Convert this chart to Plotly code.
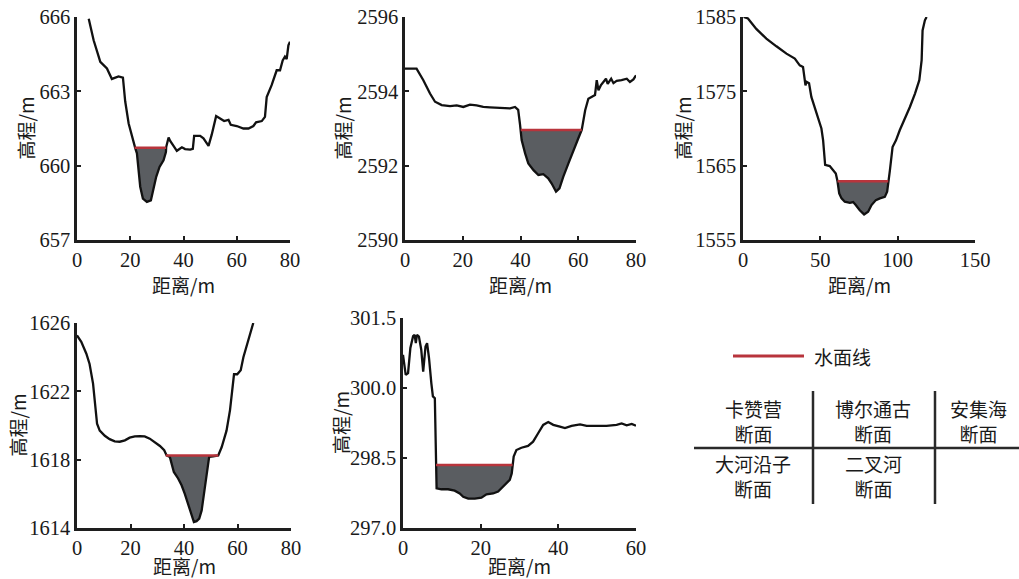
import plotly.graph_objects as go

# ---------------- data ----------------
# 卡赞营断面
kzy_x = [4.4, 6.25, 8.75, 11.25, 13.1, 15.6, 17.25, 18.1, 19.4, 21.25, 21.9, 22.5, 23.1, 23.75, 24.75, 26.25, 27.75,
         28.75, 29.75, 31.0, 32.5, 33.4, 33.5, 34.4, 35.0, 36.25, 37.5, 39.4, 40.6, 42.5, 43.5, 44.0, 46.25, 47.5,
         49.4, 50.6, 52.25, 53.75, 55.25, 56.9, 57.75, 60.0, 62.5, 64.4, 66.25, 67.25, 69.4, 70.6, 71.25, 73.1,
         75.0, 76.25, 77.25, 78.1, 78.75, 79.4, 80.0]
kzy_y = [665.93, 665.06, 664.19, 663.92, 663.5, 663.6, 663.55, 662.6, 661.7, 660.9, 660.7, 660.5, 659.95, 659.15,
         658.67, 658.54, 658.6, 659.15, 659.55, 659.95, 660.22, 660.55, 660.75, 661.14, 661.0, 660.8, 660.6, 660.74,
         660.67, 660.65, 660.68, 661.2, 661.2, 661.1, 660.8, 661.25, 662.0, 661.9, 661.8, 661.85, 661.65, 661.6,
         661.5, 661.5, 661.6, 661.75, 661.8, 661.97, 662.77, 663.25, 663.85, 663.85, 664.25, 664.4, 664.3, 664.86,
         665.0]
kzy_water = [660.72, 21.6, 33.45]

# 博尔通古断面
betg_x = [0.0, 4.0, 6.35, 8.66, 10.4, 12.7, 15.6, 17.9, 20.2, 22.5, 24.8, 27.1, 29.4, 31.75, 34.1, 36.4, 38.1,
          39.2, 39.8, 40.1, 40.4, 41.6, 42.7, 44.5, 46.2, 47.9, 49.6, 50.8, 52.3, 53.5, 54.8, 56.6, 58.3, 60.0,
          61.2, 62.4, 63.5, 64.7, 65.8, 66.4, 67.0, 67.8, 68.7, 69.6, 70.2, 71.4, 72.2, 73.3, 75.0, 76.8, 77.9,
          79.1, 80.0]
betg_y = [2594.61, 2594.61, 2594.3, 2593.94, 2593.72, 2593.63, 2593.6, 2593.62, 2593.58, 2593.64, 2593.62,
          2593.58, 2593.57, 2593.56, 2593.55, 2593.54, 2593.58, 2593.5, 2593.13, 2592.96, 2592.69, 2592.33,
          2592.06, 2591.88, 2591.75, 2591.77, 2591.66, 2591.52, 2591.3, 2591.39, 2591.7, 2592.06, 2592.42,
          2592.73, 2592.96, 2593.49, 2593.8, 2593.85, 2593.9, 2594.3, 2594.03, 2594.16, 2594.25, 2594.34,
          2594.2, 2594.34, 2594.22, 2594.28, 2594.3, 2594.34, 2594.25, 2594.32, 2594.43]
betg_water = [2592.96, 40.1, 61.2]

# 安集海断面
ajh_x = [0.4, 3.2, 8.6, 15.1, 21.6, 28.1, 33.5, 36.7, 38.8, 39.9, 40.4, 41.0, 42.7, 44.2, 46.4, 48.6, 50.7, 51.8,
         52.5, 53.1, 56.1, 58.3, 60.0, 61.1, 62.2, 63.7, 65.8, 69.1, 71.2, 72.9, 75.5, 78.3, 80.9, 83.1, 85.9,
         88.5, 91.7, 93.2, 93.9, 95.0, 96.7, 98.9, 101.4, 104.7, 107.9, 111.2, 114.0, 115.5, 116.1, 117.6, 118.7]
ajh_y = [1585.0, 1584.8, 1583.4, 1582.1, 1581.06, 1580.07, 1579.4, 1578.5, 1578.28, 1576.5, 1575.8, 1576.3,
         1576.1, 1574.25, 1572.9, 1571.3, 1570.0, 1568.4, 1566.2, 1565.1, 1564.95, 1564.4, 1563.95, 1562.9,
         1561.27, 1560.6, 1560.15, 1560.0, 1560.1, 1559.7, 1559.0, 1558.44, 1558.8, 1559.7, 1560.37, 1560.6,
         1560.8, 1561.5, 1562.9, 1564.4, 1567.5, 1568.4, 1569.8, 1571.3, 1572.9, 1574.7, 1576.5, 1579.2,
         1583.2, 1584.55, 1585.0]
ajh_water = [1562.92, 61.1, 93.9]

# 大河沿子断面
dhyz_x = [0.0, 1.6, 3.5, 4.7, 6.0, 7.0, 7.5, 8.5, 10.4, 12.2, 14.1, 16.0, 17.9, 19.7, 21.6, 23.5, 25.3, 27.2,
          29.1, 31.0, 32.6, 33.5, 34.7, 35.3, 36.2, 37.8, 39.1, 40.3, 41.6, 42.8, 43.7, 44.7, 45.7, 46.6, 47.4,
          48.4, 49.4, 50.9, 52.8, 54.1, 55.9, 57.2, 58.2, 58.7, 59.9, 61.2, 62.2, 64.0, 65.9]
dhyz_y = [1625.28, 1624.9, 1624.2, 1623.6, 1622.45, 1621.1, 1620.1, 1619.7, 1619.4, 1619.2, 1619.07, 1619.05,
          1619.13, 1619.29, 1619.36, 1619.38, 1619.36, 1619.23, 1619.03, 1618.8, 1618.55, 1618.25, 1618.16,
          1617.77, 1617.28, 1616.9, 1616.5, 1616.0, 1615.33, 1614.84, 1614.35, 1614.4, 1614.55, 1615.03,
          1616.0, 1617.18, 1618.16, 1618.2, 1618.25, 1618.74, 1619.7, 1620.9, 1622.25, 1623.0, 1623.0,
          1623.23, 1624.0, 1625.0, 1626.0]
dhyz_water = [1618.25, 33.2, 52.8]

# 二叉河断面
ech_x = [0.0, 0.7, 1.3, 1.9, 2.6, 3.0, 3.3, 3.6, 4.1, 4.7, 5.2, 5.8, 6.2, 6.7, 7.3, 7.7, 8.2, 8.4, 8.6, 8.65,
         9.9, 11.6, 13.3, 14.6, 15.5, 16.8, 18.5, 20.2, 21.5, 23.2, 24.5, 25.6, 26.7, 27.5, 28.0, 28.2, 28.5,
         29.2, 30.5, 32.2, 33.5, 34.8, 36.1, 37.4, 38.7, 40.4, 41.7, 43.4, 45.6, 47.3, 49.9, 52.4, 55.0, 56.3,
         57.6, 58.9, 60.0]
ech_y = [300.71, 300.28, 300.32, 300.86, 301.11, 301.14, 300.96, 301.14, 301.1, 300.82, 300.35, 300.89, 300.96,
         300.64, 300.1, 299.82, 299.78, 299.03, 298.35, 297.85, 297.83, 297.83, 297.8, 297.74, 297.67, 297.63,
         297.63, 297.65, 297.72, 297.74, 297.78, 297.88, 297.97, 298.03, 298.17, 298.35, 298.53, 298.67,
         298.72, 298.76, 298.85, 299.03, 299.21, 299.27, 299.21, 299.17, 299.14, 299.19, 299.22, 299.19,
         299.19, 299.19, 299.21, 299.24, 299.2, 299.23, 299.19]
ech_water = [298.35, 8.5, 28.2]

x_ranges = [[0, 80], [0, 80], [0, 150], [0, 80], [0, 60]]
y_ranges = [[657, 666], [2590, 2596], [1555, 1585], [1614, 1626], [297.0, 301.5]]
x_ticks = [[0, 20, 40, 60, 80], [0, 20, 40, 60, 80], [0, 50, 100, 150], [0, 20, 40, 60, 80], [0, 20, 40, 60]]
y_ticks = [[657, 660, 663, 666], [2590, 2592, 2594, 2596], [1555, 1565, 1575, 1585],
           [1614, 1618, 1622, 1626], [297.0, 298.5, 300.0, 301.5]]
y_fmt = ["", "", "", "", ".1f"]

sections = [(kzy_x, kzy_y, kzy_water), (betg_x, betg_y, betg_water), (ajh_x, ajh_y, ajh_water),
            (dhyz_x, dhyz_y, dhyz_water), (ech_x, ech_y, ech_water)]

legend_label = "水面线"
table_row1 = ["卡赞营<br>断面", "博尔通古<br>断面", "安集海<br>断面"]
table_row2 = ["大河沿子<br>断面", "二叉河<br>断面"]
x_title = "距离/m"
y_title = "高程/m"

# ---------------- layout (pixels) ----------------
W, H = 1019, 579


def px(x):
    return x / W


def py(y):
    return 1 - y / H


# plot areas: (left, right, top, bottom) in px
boxes = [(77, 290, 17, 240), (405, 636, 17, 240), (743, 975, 17, 240),
         (77, 291, 323, 528), (403, 636, 318, 528)]
ytitle_gap = [52, 63, 61, 60, 63]
xtitle_gap = [44, 44, 44, 37, 37]

FILL = "#5a5d61"
RED = "#b8343c"
AX = "#1e1e1e"
SERIF = "Liberation Serif"
CJK = "Noto Sans CJK SC"

fig = go.Figure()
layout = dict(
    width=W, height=H, margin=dict(l=0, r=0, t=0, b=0, pad=0, autoexpand=False),
    paper_bgcolor="white", plot_bgcolor="white", showlegend=False,
    font=dict(family=SERIF, size=20, color="#1a1a1a"),
)
annotations = []
shapes = []

for i, ((xs, ys, wat), box) in enumerate(zip(sections, boxes)):
    n = "" if i == 0 else str(i + 1)
    xa, ya = "x" + n, "y" + n
    l, r, t, b = box
    wl, xl, xr = wat
    # water fill polygon: between water surface and bed
    fx = [xl] + [x for x in xs if xl < x < xr] + [xr]
    fy = [wl] + [y for x, y in zip(xs, ys) if xl < x < xr] + [wl]
    fig.add_trace(go.Scatter(x=fx, y=fy, fill="toself", fillcolor=FILL, mode="lines",
                             line=dict(width=0, color=FILL), xaxis=xa, yaxis=ya, hoverinfo="skip"))
    fig.add_trace(go.Scatter(x=xs, y=ys, mode="lines", line=dict(color="#111111", width=2.3),
                             xaxis=xa, yaxis=ya))
    fig.add_trace(go.Scatter(x=[xl, xr], y=[wl, wl], mode="lines", line=dict(color=RED, width=2.5),
                             xaxis=xa, yaxis=ya))
    axis_common = dict(showgrid=False, zeroline=False, showline=True, linewidth=2.5, linecolor=AX,
                       ticks="inside", ticklen=4, tickwidth=2, tickcolor=AX, automargin=False,
                       ticklabeloverflow="allow",
                       tickfont=dict(family=SERIF, size=20.5, color="#1a1a1a"))
    layout["xaxis" + n] = dict(axis_common, domain=[px(l), px(r)], range=x_ranges[i],
                               tickvals=x_ticks[i], anchor=ya, fixedrange=True)
    layout["yaxis" + n] = dict(axis_common, domain=[py(b), py(t)], range=y_ranges[i],
                               tickvals=y_ticks[i], tickformat=y_fmt[i], anchor=xa, fixedrange=True)
    # axis titles
    annotations.append(dict(text=x_title, x=px((l + r) / 2), y=py(b + xtitle_gap[i]), xref="paper",
                            yref="paper", showarrow=False, font=dict(family=CJK, size=19, color="#1a1a1a"),
                            xanchor="center", yanchor="middle"))
    annotations.append(dict(text=y_title, x=px(l - ytitle_gap[i]), y=py((t + b) / 2), xref="paper",
                            yref="paper", showarrow=False, textangle=-90,
                            font=dict(family=CJK, size=19, color="#1a1a1a"),
                            xanchor="center", yanchor="middle"))

# legend: red line + text
shapes.append(dict(type="line", xref="paper", yref="paper", x0=px(733), x1=px(804),
                   y0=py(356), y1=py(356), line=dict(color=RED, width=3)))
annotations.append(dict(text=legend_label, x=px(812), y=py(356), xref="paper", yref="paper",
                        showarrow=False, xanchor="left", yanchor="middle",
                        font=dict(family=CJK, size=19, color="#1a1a1a")))

# table of section names
for xv in (813, 935):
    shapes.append(dict(type="line", xref="paper", yref="paper", x0=px(xv), x1=px(xv),
                       y0=py(391), y1=py(504), line=dict(color="#2a2a2a", width=2.5)))
shapes.append(dict(type="line", xref="paper", yref="paper", x0=px(694), x1=1,
                   y0=py(448), y1=py(448), line=dict(color="#2a2a2a", width=2.5)))
col_centers = [753, 873, 978]
for txt, cx in zip(table_row1, col_centers):
    annotations.append(dict(text=txt, x=px(cx), y=py(421), xref="paper", yref="paper", showarrow=False,
                            xanchor="center", yanchor="middle",
                            font=dict(family=CJK, size=19, color="#1a1a1a")))
for txt, cx in zip(table_row2, col_centers):
    annotations.append(dict(text=txt, x=px(cx), y=py(476), xref="paper", yref="paper", showarrow=False,
                            xanchor="center", yanchor="middle",
                            font=dict(family=CJK, size=19, color="#1a1a1a")))

layout["annotations"] = annotations
layout["shapes"] = shapes
fig.update_layout(**layout)
fig.write_html("out.html", config={"displayModeBar": False},
               post_script="document.body.style.margin='0px';document.body.style.padding='0px';")
